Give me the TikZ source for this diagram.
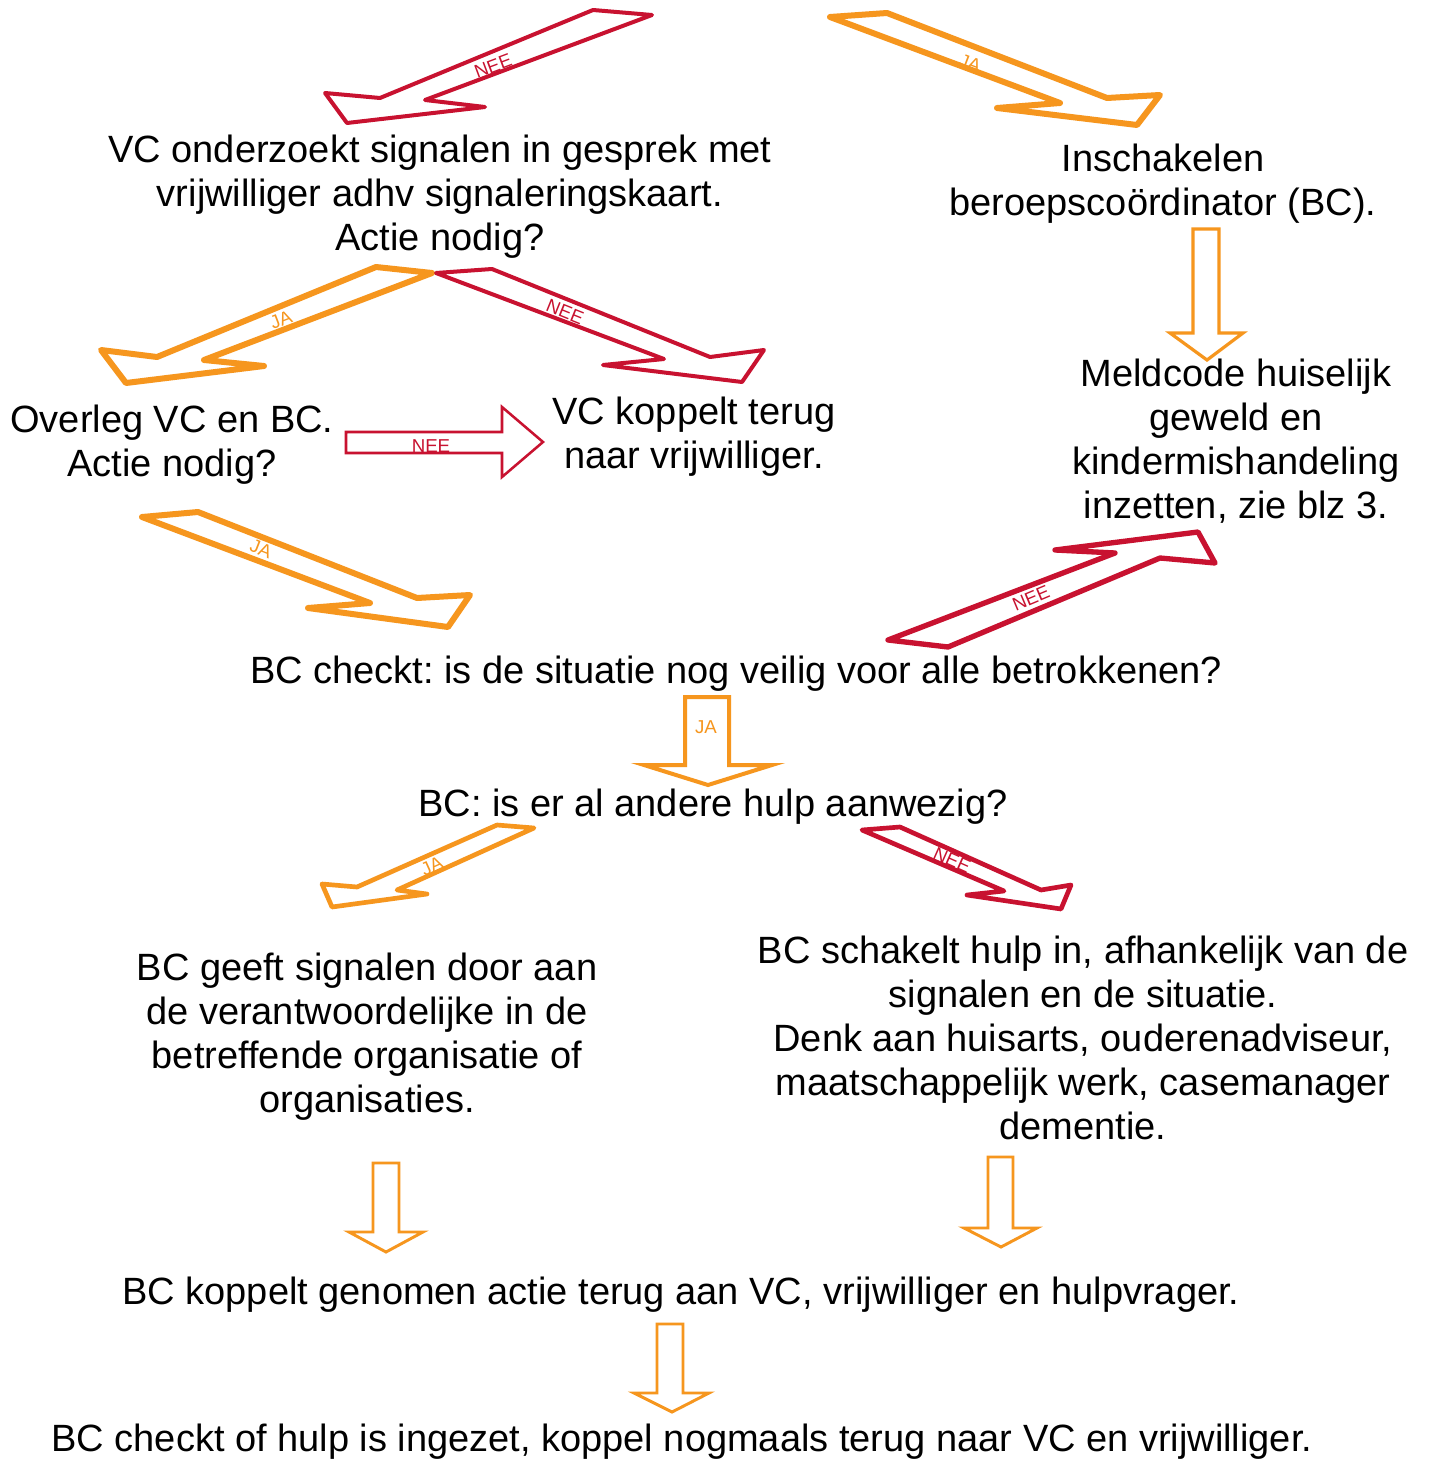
\documentclass[tikz,border=0pt]{standalone}
\usepackage{fontspec}
\setmainfont{Liberation Sans}
\frenchspacing
\definecolor{arred}{RGB}{200,18,48}
\definecolor{arorange}{RGB}{246,150,30}
\begin{document}
\begin{tikzpicture}[x=0.75pt,y=-0.75pt,
  txt/.style={align=center,inner sep=0pt,font=\fontsize{28.5}{33}\selectfont},
  lbl/.style={inner sep=0pt,font=\fontsize{14}{15}\selectfont},
  redlbl/.style={lbl,text=arred},
  orlbl/.style={lbl,text=arorange},
  redblock/.style={draw=arred,fill=white,line join=round,line width=3pt},
  orblock/.style={draw=arorange,fill=white,line join=round,line width=4.5pt},
  orthin/.style={draw=arorange,fill=white,line join=miter,line width=2.4pt},
  redthin/.style={draw=arred,fill=white,line join=miter,line width=1.9pt}]
\useasboundingbox (0,0) rectangle (1429,1459);
\fill[white] (0,0) rectangle (1429,1459);

% text nodes
\node[txt] (vcond) at (440,197) {VC onderzoekt signalen in gesprek met\\vrijwilliger adhv signaleringskaart.\\Actie nodig?};
\node[txt] (insch) at (1163,184) {Inschakelen\\beroepscoördinator (BC).};
\node[txt] (overleg) at (172,445) {Overleg VC en BC.\\Actie nodig?};
\node[txt] (vckop) at (694,437) {VC koppelt terug\\naar vrijwilliger.};
\node[txt] (meld) at (1236,441) {Meldcode huiselijk\\geweld en\\kindermishandeling\\inzetten, zie blz 3.};
\node[txt] (bccheck) at (736,674) {BC checkt: is de situatie nog veilig voor alle betrokkenen?};
\node[txt] (bchulp) at (713,807) {BC: is er al andere hulp aanwezig?};
\node[txt] (bcgeeft) at (367,1037) {BC geeft signalen door aan\\de verantwoordelijke in de\\betreffende organisatie of\\organisaties.};
\node[txt] (bcschak) at (1083,1038) {BC schakelt hulp in, afhankelijk van de\\signalen en de situatie.\\Denk aan huisarts, ouderenadviseur,\\maatschappelijk werk, casemanager\\dementie.};
\node[txt] (bckop) at (681,1295) {BC koppelt genomen actie terug aan VC, vrijwilliger en hulpvrager.};
\node[txt] (bccheckof) at (682,1442) {BC checkt of hulp is ingezet, koppel nogmaals terug naar VC en vrijwilliger.};

% A: red NEE top-left
\draw[redblock] (593,10) -- (652,15) -- (425,100) -- (485,107) -- (347,123) -- (325,93) -- (380,98) -- cycle;
\node[redlbl,rotate=20.5] (la) at (493,66) {NEE};
% B: orange JA top-right
\draw[orblock] (830,17) -- (887,13) -- (1107,98) -- (1160,95) -- (1137,125) -- (997,108) -- (1060,103) -- cycle;
\node[orlbl,rotate=-21] (lb) at (970,63) {JA};
% C: orange JA to Overleg
\draw[orblock] (376,267) -- (432,273) -- (204,360) -- (264,366) -- (126,383) -- (101,350) -- (157,357) -- cycle;
\node[orlbl,rotate=21] (lc) at (281,320) {JA};
% D: red NEE to VC koppelt
\draw[redblock] (436,273) -- (492,269) -- (710,357) -- (764,350) -- (742,382) -- (603,365) -- (664,359) -- cycle;
\node[redlbl,rotate=-22] (ld) at (565,312) {NEE};
% E: red horizontal NEE
\draw[redthin] (346,432) -- (502,432) -- (502,407) -- (543,442) -- (502,477) -- (502,453) -- (346,453) -- cycle;
\node[redlbl] (le) at (431,446) {NEE};
% F: orange JA to BC checkt
\draw[orblock] (142,517) -- (198,512) -- (417,598) -- (470,595) -- (448,627) -- (308,608) -- (370,603) -- cycle;
\node[orlbl,rotate=-21.4] (lf) at (261,549) {JA};
% G: red NEE up to Meldcode
\draw[redblock,line width=4pt] (888,640) -- (948,647) -- (1160,558) -- (1215,563) -- (1198,532) -- (1055,550) -- (1115,553) -- cycle;
\node[redlbl,rotate=22.8] (lg) at (1031,598) {NEE};
% H: orange down to Meldcode
\draw[orthin] (1193,229) -- (1219,229) -- (1219,333) -- (1243,333) -- (1207,360) -- (1170,333) -- (1193,333) -- cycle;
% I: orange JA down
\draw[orthin,line width=3pt] (685,697) -- (729,697) -- (729,765) -- (772,765) -- (708,785) -- (644,765) -- (685,765) -- cycle;
\node[orlbl] (li) at (706,727) {JA};
% J: orange JA to BC geeft
\draw[orblock,line width=3.5pt] (497,825) -- (534,828) -- (397,890) -- (427,894) -- (332,907) -- (322,884) -- (357,887) -- cycle;
\node[orlbl,rotate=24.3] (lj) at (432,866) {JA};
% K: red NEE to BC schakelt
\draw[redblock,line width=3.5pt] (862,830) -- (900,827) -- (1041,890) -- (1071,885) -- (1061,909) -- (967,895) -- (1004,891) -- cycle;
\node[redlbl,rotate=-24] (lk) at (952,860) {NEE};
% L, M, N: orange down arrows
\draw[orthin,line width=2.2pt] (373,1163) -- (399,1163) -- (399,1232) -- (423,1232) -- (386,1252) -- (349,1232) -- (373,1232) -- cycle;
\draw[orthin,line width=2.2pt] (988,1157) -- (1013,1157) -- (1013,1228) -- (1037,1228) -- (1001,1247) -- (964,1228) -- (988,1228) -- cycle;
\draw[orthin,line width=2.2pt] (657,1324) -- (683,1324) -- (683,1393) -- (709,1393) -- (672,1412) -- (634,1393) -- (657,1393) -- cycle;
\end{tikzpicture}
\end{document}
